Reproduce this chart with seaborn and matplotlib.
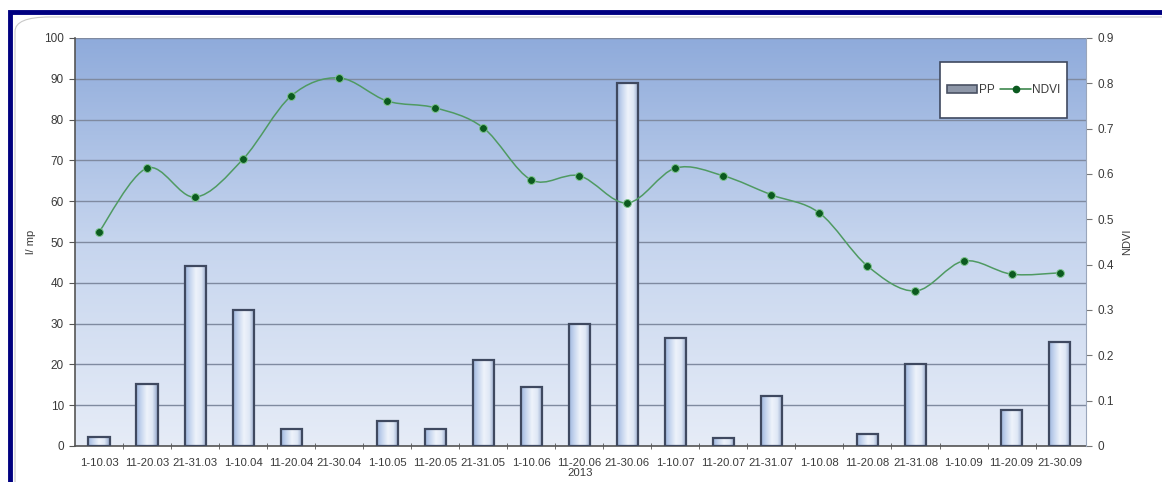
import numpy as np
import pandas as pd
import matplotlib
matplotlib.use("Agg")
import matplotlib.pyplot as plt
import seaborn as sns
from matplotlib.path import Path
from matplotlib.patches import PathPatch, Rectangle, FancyBboxPatch
from matplotlib.lines import Line2D
from matplotlib.colors import LinearSegmentedColormap

# data
periods = ["1-10.03", "11-20.03", "21-31.03", "1-10.04", "11-20.04", "21-30.04",
           "1-10.05", "11-20.05", "21-31.05", "1-10.06", "11-20.06", "21-30.06",
           "1-10.07", "11-20.07", "21-31.07", "1-10.08", "11-20.08", "21-31.08",
           "1-10.09", "11-20.09", "21-30.09"]
pp = [2.2, 15.2, 44.1, 33.3, 4.2, 0, 6.1, 4.2, 21.1, 14.5, 29.9, 89.0,
      26.5, 2.0, 12.3, 0, 3.0, 20.1, 0, 8.8, 25.5]
ndvi = [0.472, 0.613, 0.549, 0.633, 0.772, 0.812, 0.761, 0.746, 0.702, 0.587,
        0.596, 0.536, 0.613, 0.596, 0.554, 0.514, 0.397, 0.342, 0.408, 0.379, 0.382]
left_ticks = list(range(0, 101, 10))
right_ticks = [0, 0.1, 0.2, 0.3, 0.4, 0.5, 0.6, 0.7, 0.8, 0.9]

df = pd.DataFrame({"period": periods, "PP": pp, "NDVI": ndvi})

sns.set_style("white")
plt.rcParams["font.family"] = ["Liberation Sans", "DejaVu Sans"]
text_col = "#3a3a3a"

fig = plt.figure(figsize=(11.62, 4.82), dpi=100)
fig.patch.set_facecolor("white")

# outer navy frame and light rounded inner frame
fig.patches.append(Rectangle((10 / 1162, -0.1), 1.2, (482 - 12) / 482 + 0.1,
                             transform=fig.transFigure, fill=False,
                             edgecolor="#000080", linewidth=3.5, zorder=0))
fig.patches.append(FancyBboxPatch((15 / 1162, -0.1), 1.2, (482 - 17) / 482 + 0.1,
                                  boxstyle="round,pad=0,rounding_size=0.03",
                                  transform=fig.transFigure, fill=False,
                                  edgecolor="#c8c8c8", linewidth=0.8, zorder=0))

ax1 = fig.add_axes([75 / 1162, 1 - 446 / 482, (1086 - 75) / 1162, (446 - 38) / 482])
xmin, xmax = -0.5, 20.55

# background gradient
bg_cmap = LinearSegmentedColormap.from_list("bg", ["#e6ecf7", "#c6d5ee", "#8fabdb"])
grad = np.linspace(0, 1, 256).reshape(-1, 1)
ax1.imshow(grad, cmap=bg_cmap, aspect="auto", origin="lower",
           extent=[xmin, xmax, 0, 100], zorder=0)

# bars
sns.barplot(data=df, x="period", y="PP", ax=ax1, width=0.44, color="#b8cbe8",
            edgecolor="#3f4960", linewidth=1.6, zorder=3)
bar_cmap = LinearSegmentedColormap.from_list(
    "bar", ["#9fb6de", "#c9d8f0", "#eef3fb", "#dfe8f6", "#8ea2c8"])
hgrad = np.linspace(0, 1, 256).reshape(1, -1)
for patch in ax1.patches:
    h = patch.get_height()
    if h <= 0:
        patch.set_visible(False)
        continue
    x0 = patch.get_x()
    w = patch.get_width()
    patch.set_facecolor("none")
    im = ax1.imshow(hgrad, cmap=bar_cmap, aspect="auto",
                    extent=[x0, x0 + w, 0, h], zorder=2.5)
    im.set_clip_path(patch)

ax1.set_xlim(xmin, xmax)
ax1.set_ylim(0, 100)
ax1.set_yticks(left_ticks)
ax1.yaxis.grid(True, color="#7f8aa0", linewidth=1.0, zorder=1)
ax1.set_axisbelow(True)
ax1.set_xlabel("2013", fontsize=8.2, color=text_col, labelpad=0)
ax1.set_ylabel("l/ mp", fontsize=8, color=text_col, labelpad=6)
ax1.tick_params(axis="y", labelsize=8.5, labelcolor=text_col, length=4,
                color="#555555", direction="out", left=True, pad=4)
ax1.tick_params(axis="x", labelsize=8.2, labelcolor=text_col, length=0, pad=8.5)
ax1.set_xticks(range(len(periods)), periods)
ax1.set_xticks(np.arange(0.5, len(periods) - 0.5, 1), minor=True)
ax1.tick_params(axis="x", which="minor", length=4, color="#555555",
                direction="inout", bottom=True)
for s in ["top", "right"]:
    ax1.spines[s].set_visible(False)
ax1.spines["left"].set_color("#555555")
ax1.spines["bottom"].set_color("#555555")
ax1.spines["left"].set_linewidth(1.2)
ax1.spines["bottom"].set_linewidth(1.2)

# NDVI on secondary axis, smoothed line through points
ax2 = ax1.twinx()
ax2.set_ylim(0, 0.9)
ax2.set_yticks(right_ticks, ["0"] + [f"{v:.1f}" for v in right_ticks[1:]])
ax2.tick_params(axis="y", labelsize=8.5, labelcolor=text_col, length=4,
                color="#777777", direction="out", pad=4)
ax2.set_ylabel("NDVI", fontsize=8, color=text_col, labelpad=6)
for s in ["top", "left", "bottom"]:
    ax2.spines[s].set_visible(False)
ax2.spines["right"].set_color("#9aa6bb")

xs = np.arange(len(ndvi), dtype=float)
ys = np.array(ndvi)
verts = [(xs[0], ys[0])]
codes = [Path.MOVETO]
n = len(xs)
for i in range(n - 1):
    p0 = np.array([xs[max(i - 1, 0)], ys[max(i - 1, 0)]])
    p1 = np.array([xs[i], ys[i]])
    p2 = np.array([xs[i + 1], ys[i + 1]])
    p3 = np.array([xs[min(i + 2, n - 1)], ys[min(i + 2, n - 1)]])
    c1 = p1 + (p2 - p0) / 6
    c2 = p2 - (p3 - p1) / 6
    verts += [tuple(c1), tuple(c2), tuple(p2)]
    codes += [Path.CURVE4] * 3
ax2.add_patch(PathPatch(Path(verts, codes), fill=False, edgecolor="#4f9a62",
                        linewidth=1.1, zorder=4))
sns.scatterplot(x=xs, y=ys, ax=ax2, color="#0b5a1f", s=32, edgecolor="#7cc48c",
                linewidth=0.7, zorder=5, legend=False)
ax2.set_xlim(xmin, xmax)

# legend: white box drawn separately, entries centred in it
box = Rectangle((0.8556, 0.804), 0.1255, 0.137, transform=ax2.transAxes,
                facecolor="white", edgecolor="#3f4960", linewidth=1.2, zorder=6)
ax2.add_patch(box)
handles = [Rectangle((0, 0), 1, 1, facecolor="#8e97a8", edgecolor="#4a5263", linewidth=1.2),
           Line2D([], [], color="#2e7d3e", linewidth=1.1, marker="o", markersize=4.5,
                  markerfacecolor="#0b5a1f", markeredgecolor="#0b5a1f")]
leg = ax2.legend(handles, ["PP", "NDVI"], ncol=2, loc="center",
                 bbox_to_anchor=(0.9185, 0.8725), fontsize=8.5, frameon=False,
                 borderpad=0, handlelength=2.6, handletextpad=0.1,
                 columnspacing=0.5, handleheight=0.6)
leg.set_zorder(7)
for t in leg.get_texts():
    t.set_color(text_col)

fig.savefig("out.png", dpi=100)
